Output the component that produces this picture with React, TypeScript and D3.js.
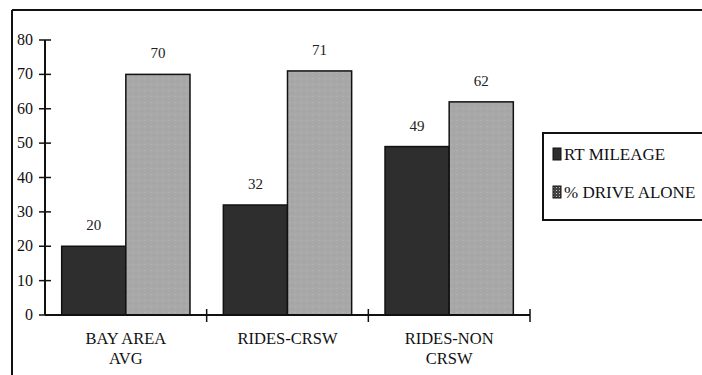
import React from "react";
import * as d3 from "d3";

const categories = ["BAY AREA|AVG", "RIDES-CRSW", "RIDES-NON|CRSW"];
const seriesNames = ["RT MILEAGE", "% DRIVE ALONE"];
const rtMileage = [20, 32, 49];
const driveAlone = [70, 71, 62];
const yTicks = [0, 10, 20, 30, 40, 50, 60, 70, 80];

const W = 702;
const H = 375;
const COLORS = ["#2e2e2e", "#a8a8a8"];

export default function App() {
  const y = d3.scaleLinear().domain([0, 80]).range([315, 40]);
  const x = d3.scaleBand<string>().domain(categories).range([45, 530]);
  const inner = d3
    .scaleBand<string>()
    .domain(seriesNames)
    .range([0, x.bandwidth()])
    .paddingOuter(0.26);
  const series = [rtMileage, driveAlone];

  return (
    <svg
      width={W}
      height={H}
      style={{ position: "absolute", left: 0, top: 0, background: "#fff" }}
    >
      <style>{`text { font-family: 'Liberation Serif', 'Times New Roman', serif; }`}</style>
      <defs>
        <pattern id="grain" width="6" height="6" patternUnits="userSpaceOnUse">
          <rect width="6" height="6" fill={COLORS[1]} />
          <rect x="0" y="0" width="2" height="1" fill="#b0b0b0" />
          <rect x="3" y="3" width="2" height="1" fill="#a0a0a0" />
        </pattern>
        <pattern id="legendGrain" width="3" height="3" patternUnits="userSpaceOnUse">
          <rect width="3" height="3" fill="#444" />
          <rect x="1" y="1" width="1" height="1" fill="#bbb" />
        </pattern>
      </defs>

      {/* outer frame */}
      <line x1={12} y1={10} x2={W} y2={10} stroke="#111" strokeWidth={2} />
      <line x1={12} y1={10} x2={12} y2={H} stroke="#111" strokeWidth={2} />

      {/* bars */}
      {categories.map((c, ci) =>
        seriesNames.map((s, si) => {
          const v = series[si][ci];
          const bx = (x(c) ?? 0) + (inner(s) ?? 0);
          return (
            <g key={c + s}>
              <rect
                x={bx}
                y={y(v)}
                width={inner.bandwidth()}
                height={y(0) - y(v)}
                fill={si === 0 ? COLORS[0] : "url(#grain)"}
                stroke="#111"
                strokeWidth={1.5}
              />
              <text
                x={bx + inner.bandwidth() / 2}
                y={y(v) - 16}
                textAnchor="middle"
                fontSize={15}
                fill="#222"
              >
                {v}
              </text>
            </g>
          );
        })
      )}

      {/* y axis */}
      <line x1={45} y1={y(80)} x2={45} y2={y(0)} stroke="#111" strokeWidth={2} />
      {yTicks.map((t) => (
        <g key={t}>
          <line x1={39} x2={51} y1={y(t)} y2={y(t)} stroke="#111" strokeWidth={1.5} />
          <text x={33} y={y(t) + 5} textAnchor="end" fontSize={16} fill="#111">
            {t}
          </text>
        </g>
      ))}

      {/* x axis */}
      <line x1={45} y1={y(0)} x2={530} y2={y(0)} stroke="#111" strokeWidth={2} />
      {categories.map((c) => {
        const tx = (x(c) ?? 0) + x.bandwidth();
        return (
          <line key={"t" + c} x1={tx} x2={tx} y1={309} y2={322} stroke="#111" strokeWidth={1.5} />
        );
      })}
      {categories.map((c) => {
        const cx = (x(c) ?? 0) + x.bandwidth() / 2;
        return (
          <text key={"l" + c} textAnchor="middle" fontSize={16.5} fill="#111">
            {c.split("|").map((line, i) => (
              <tspan key={i} x={cx} y={344 + i * 20}>
                {line}
              </tspan>
            ))}
          </text>
        );
      })}

      {/* legend */}
      <rect x={543} y={133} width={180} height={87} fill="#fff" stroke="#111" strokeWidth={2} />
      {seriesNames.map((s, i) => (
        <g key={s}>
          <rect
            x={553}
            y={148 + i * 38}
            width={8}
            height={12}
            fill={i === 0 ? COLORS[0] : "url(#legendGrain)"}
            stroke="#111"
            strokeWidth={1}
          />
          <text x={564} y={160 + i * 38} fontSize={17} fill="#111">
            {s}
          </text>
        </g>
      ))}
    </svg>
  );
}
